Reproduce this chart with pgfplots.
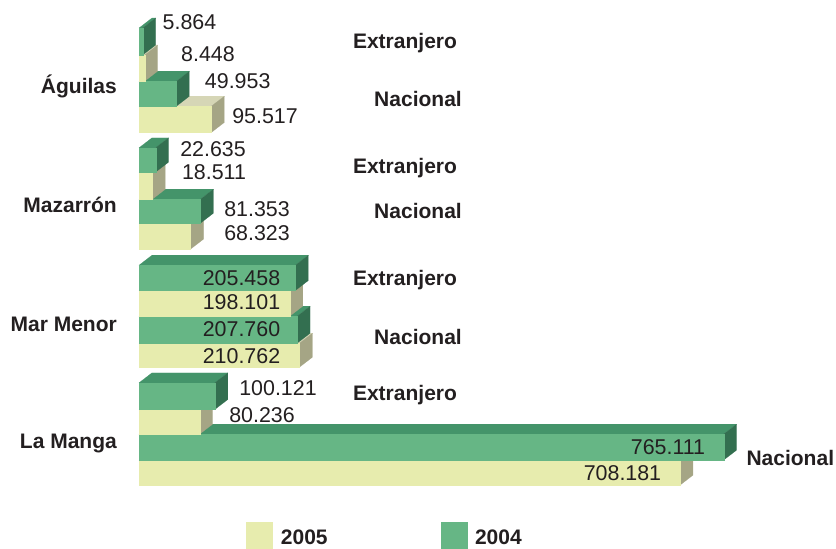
\documentclass[border=0pt]{standalone}
\usepackage{pgfplots}
\pgfplotsset{compat=1.18}
\usepackage{fontspec}
\setmainfont{Liberation Sans}
\definecolor{fa}{HTML}{E7ECAE}
\definecolor{ta}{HTML}{D6D6B6}
\definecolor{sa}{HTML}{A5A585}
\definecolor{fb}{HTML}{66B685}
\definecolor{tb}{HTML}{44946A}
\definecolor{sb}{HTML}{336F50}
\definecolor{ink}{HTML}{231F20}
% value, y top, y bottom, colours of front, top, side
\newcommand{\tdbar}[6]{%
  \addplot[fill=#5,draw=#5,line width=0.1pt] coordinates {(0,#2) (16993,#2-10) (#1+16993-1000,#2-10) (#1-1000,#2)} --cycle;
  \addplot[fill=#6,draw=#6,line width=0.1pt] coordinates {(#1-1000,#2) (#1+16993-1000,#2-10) (#1+16993-1000,#3-10) (#1-1000,#3)} --cycle;
  \addplot[fill=#4,draw=#4,line width=0.1pt] coordinates {(0,#2) (#1-1000,#2) (#1-1000,#3) (0,#3)} --cycle;
}
\newcommand{\barA}[3]{\tdbar{#1}{#2}{#3}{fa}{ta}{sa}}
\newcommand{\barB}[3]{\tdbar{#1}{#2}{#3}{fb}{tb}{sb}}
\newcommand{\val}[3]{\node[text=ink,anchor=center,yshift=-0.7pt,font=\fontsize{21.4}{24}\selectfont] at (axis cs:#1,#2) {#3};}
\begin{document}
\begin{tikzpicture}[x=1pt,y=1pt]
\path[use as bounding box] (0,0) rectangle (836,549);
\begin{axis}[
  at={(0,0)},anchor=south west,
  scale only axis,width=836pt,height=549pt,
  xmin=-181699,xmax=911111,ymin=0.5,ymax=549.5,y dir=reverse,
  axis lines=none,clip=false,
]
% La Manga
\barA{708181}{460.7}{485.7}
\barB{765111}{434.7}{460.7}
\barA{80236}{410}{434.7}
\barB{100121}{383.3}{410}
% Mar Menor
\barA{210762}{343.7}{367.7}
\barB{207760}{316.7}{343.7}
\barA{198101}{291}{316.7}
\barB{205458}{265.7}{291}
% Mazarron
\barA{68323}{223.7}{249.7}
\barB{81353}{199.7}{223.7}
\barA{18511}{172.7}{199.7}
\barB{22635}{148.3}{172.7}
% Aguilas
\barA{95517}{106.7}{133}
\barB{49953}{81.7}{106.7}
\barA{8448}{55.5}{81.7}
\barB{5864}{28.5}{55.5}
% value labels (x position in data units, y in image rows)
\val{66013}{22}{5.864}
\val{90196}{54}{8.448}
\val{129000}{81}{49.953}
\val{164706}{116}{95.517}
\val{96732}{149}{22.635}
\val{98039}{172}{18.511}
\val{154248}{209}{81.353}
\val{154248}{233}{68.323}
\val{134000}{278}{205.458}
\val{134000}{302}{198.101}
\val{134000}{329}{207.760}
\val{134000}{356}{210.762}
\val{181699}{388}{100.121}
\val{160784}{415}{80.236}
\val{691503}{447}{765.111}
\val{632000}{473}{708.181}
% series labels
\newcommand{\lab}[4]{\node[text=ink,anchor=center,yshift=#4,font=\fontsize{21}{24}\selectfont\bfseries] at (axis cs:#1,#2) {#3};}
\lab{347712}{41}{Extranjero}{-2.2pt}
\lab{364706}{99}{Nacional}{-0.9pt}
\lab{347712}{166}{Extranjero}{-2.2pt}
\lab{364706}{211}{Nacional}{-0.9pt}
\lab{347712}{278}{Extranjero}{-2.2pt}
\lab{364706}{337}{Nacional}{-0.9pt}
\lab{347712}{393}{Extranjero}{-2.2pt}
\lab{851400}{458}{Nacional}{-0.9pt}
% categories
\newcommand{\cat}[2]{\node[text=ink,anchor=east,inner sep=0pt,yshift=-0.7pt,font=\fontsize{21}{24}\selectfont\bfseries] at (axis cs:-28758,#1) {#2};}
\cat{86}{Águilas}
\cat{205}{Mazarrón}
\cat{324}{Mar Menor}
\cat{443.5}{La Manga}
% legend
\addplot[fill=fa,draw=none] coordinates {(139869,522) (175163,522) (175163,549.5) (139869,549.5)} --cycle;
\addplot[fill=fb,draw=none] coordinates {(394771,522) (430065,522) (430065,549.5) (394771,549.5)} --cycle;
\node[text=ink,anchor=west,inner sep=0pt,yshift=-0.5pt,font=\fontsize{21}{24}\selectfont\bfseries] at (axis cs:185300,537) {2005};
\node[text=ink,anchor=west,inner sep=0pt,yshift=-0.5pt,font=\fontsize{21}{24}\selectfont\bfseries] at (axis cs:439000,537) {2004};
\end{axis}
\end{tikzpicture}
\end{document}
